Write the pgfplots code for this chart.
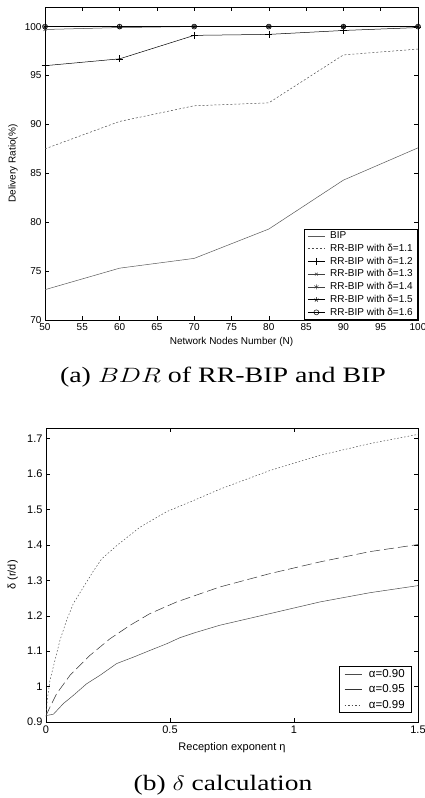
\documentclass[border=0pt]{standalone}
\usepackage{fontspec}
\setmainfont{Liberation Serif}
\newfontfamily\arial{Liberation Sans}
\usepackage{pgfplots}
\pgfplotsset{compat=1.18}

\pgfplotsset{
  mat/.style={
    scale only axis,
    axis line style={black, line width=0.5pt},
    every tick/.style={black, line width=0.4pt},
    major tick length=4pt,
    tick align=inside,
    /pgf/number format/assume math mode=true,
    legend cell align=left,
    legend style={draw=black, line width=0.6pt, inner ysep=1pt, inner xsep=3pt, column sep=3pt},
  },
}

\begin{document}
\begin{tikzpicture}
\useasboundingbox (0pt,0pt) rectangle (425pt,-798pt);

% (a) delivery ratio
\begin{axis}[mat,
  at={(45pt,-7pt)}, anchor=north west,
  width=373pt, height=313pt,
  font=\arial\fontsize{10}{12}\selectfont,
  xmin=50, xmax=100, ymin=70, ymax=102,
  xtick={50,55,...,100}, ytick={70,75,...,100},
  xlabel={Network Nodes Number (N)},
  ylabel={Delivery Ratio(\%)},
  xlabel style={at={(axis description cs:0.5,-0.070)}, anchor=center},
  ylabel style={at={(axis description cs:-0.086,0.5)}, anchor=center},
  legend style={at={(1,0)}, anchor=south east,
    font=\arial\fontsize{10}{12}\selectfont, row sep=0pt},
]
\addplot[black!65, line width=0.5pt] coordinates {(50,73.1) (60,75.3) (70,76.3) (80,79.3) (90,84.3) (100,87.6)};
\addlegendentry{BIP}
\addplot[black!70, line width=0.5pt, dash pattern=on 2pt off 2pt] coordinates {(50,87.5) (60,90.3) (70,91.9) (80,92.2) (90,97.1) (100,97.7)};
\addlegendentry{RR-BIP with δ=1.1}
\addplot[black, line width=0.5pt, mark=+, mark size=3.5pt] coordinates {(50,96.0) (60,96.7) (70,99.1) (80,99.2) (90,99.6) (100,99.9)};
\addlegendentry{RR-BIP with δ=1.2}
\addplot[black!75, line width=0.5pt, mark=x, mark size=2pt] coordinates {(50,99.7) (60,99.9) (70,100) (80,100) (90,100) (100,100)};
\addlegendentry{RR-BIP with δ=1.3}
\addplot[black!75, line width=0.5pt, mark=asterisk, mark size=2.5pt] coordinates {(50,100) (60,100) (70,100) (80,100) (90,100) (100,100)};
\addlegendentry{RR-BIP with δ=1.4}
\addplot[black, line width=0.5pt, mark=star, mark size=2.5pt] coordinates {(50,100) (60,100) (70,100) (80,100) (90,100) (100,100)};
\addlegendentry{RR-BIP with δ=1.5}
\addplot[black, line width=0.5pt, mark=o, mark size=2.5pt] coordinates {(50,100) (60,100) (70,100) (80,100) (90,100) (100,100)};
\addlegendentry{RR-BIP with δ=1.6}
\end{axis}

\node[font=\fontsize{22}{26}\selectfont, xscale=1.27] at (223pt,-377pt) {(a) $BDR$ of RR-BIP and BIP};

% (b) delta calculation
\begin{axis}[mat,
  at={(46pt,-428pt)}, anchor=north west,
  width=372pt, height=294pt,
  font=\arial\fontsize{11}{13}\selectfont,
  xmin=0, xmax=1.5, ymin=0.9, ymax=1.73,
  xtick={0,0.5,1,1.5}, ytick={0.9,1,1.1,1.2,1.3,1.4,1.5,1.6,1.7},
  xticklabels={0,0.5,1,1.5},
  yticklabels={0.9,1,1.1,1.2,1.3,1.4,1.5,1.6,1.7},
  xlabel={Reception exponent η},
  ylabel={δ (r/d)},
  xlabel style={at={(axis description cs:0.5,-0.087)}, anchor=center},
  ylabel style={at={(axis description cs:-0.089,0.5)}, anchor=center},
  legend style={at={(1,0)}, anchor=south east, xshift=-6pt, yshift=9pt,
    font=\arial\fontsize{11.5}{13}\selectfont, row sep=2pt,
    inner xsep=5pt, column sep=5pt},
]
\addplot[black!70, line width=0.5pt] coordinates {(0,0.918) (0.03,0.922) (0.07,0.952) (0.11,0.975) (0.164,1.008) (0.218,1.032) (0.285,1.065) (0.352,1.083) (0.419,1.102) (0.487,1.121) (0.54,1.138) (0.6,1.152) (0.70,1.173) (0.903,1.206) (1.105,1.239) (1.306,1.265) (1.5,1.285)};
\addlegendentry{α=0.90}
\addplot[black!80, line width=0.5pt, dash pattern=on 10pt off 4pt,
  legend image post style={dash pattern=on 20pt off 2pt}] coordinates {(0,0.918) (0.016,0.942) (0.043,0.98) (0.097,1.032) (0.177,1.088) (0.258,1.135) (0.339,1.173) (0.419,1.206) (0.527,1.239) (0.70,1.281) (0.903,1.319) (1.105,1.352) (1.306,1.381) (1.5,1.401)};
\addlegendentry{α=0.95}
\addplot[black!70, line width=0.5pt, dash pattern=on 1.5pt off 2pt] coordinates {(0,0.914) (0.005,0.961) (0.016,1.018) (0.036,1.074) (0.056,1.13) (0.083,1.187) (0.11,1.234) (0.151,1.281) (0.19,1.325) (0.224,1.36) (0.285,1.398) (0.379,1.45) (0.487,1.494) (0.594,1.525) (0.70,1.557) (0.903,1.61) (1.105,1.653) (1.306,1.686) (1.5,1.712)};
\addlegendentry{α=0.99}
\end{axis}

\node[font=\fontsize{22}{26}\selectfont, xscale=1.25] at (223pt,-785pt) {(b) $\delta$ calculation};
\end{tikzpicture}
\end{document}
